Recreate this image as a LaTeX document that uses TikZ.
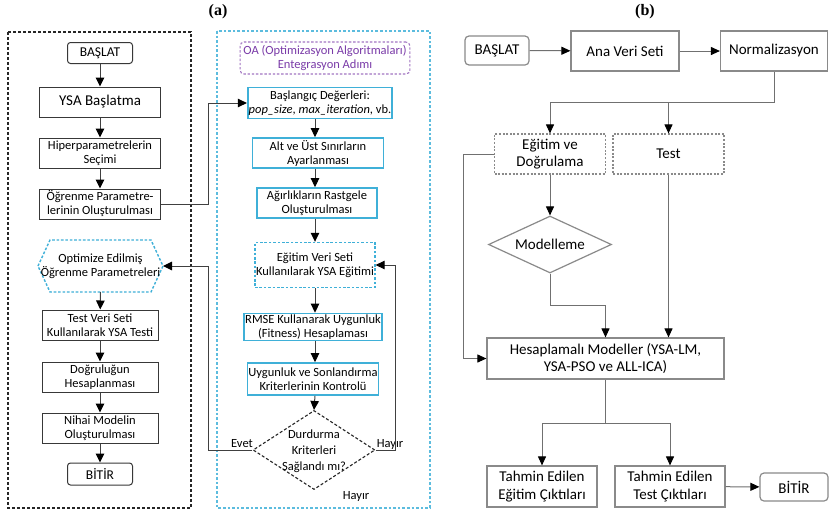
\documentclass[tikz,border=0pt]{standalone}
\usepackage{fontspec}
\setmainfont{Carlito}
\newfontfamily\labelfont{Liberation Serif}
\usetikzlibrary{arrows.meta,shapes.geometric,calc}

\definecolor{oacyan}{HTML}{3FB0D8}
\definecolor{oapurple}{HTML}{7A3BA8}
\definecolor{linegray}{HTML}{707070}
\definecolor{boxgray}{HTML}{8A8A8A}

\tikzset{
  fa/.style={font=\fontsize{12.5}{14}\selectfont},
  fb/.style={font=\fontsize{15}{17.5}\selectfont},
  abox/.style={draw=black!78, line width=1pt, fill=white, align=center, inner sep=1pt, fa},
  cbox/.style={draw=oacyan, line width=1.7pt, fill=white, align=center, inner sep=1pt, fa},
  cdash/.style={draw=oacyan, line width=1.4pt, dash pattern=on 2.6pt off 1.8pt, fill=white, align=center, inner sep=1pt, fa},
  bbox/.style={draw=boxgray, line width=1.2pt, fill=white, align=center, inner sep=1pt, fb},
  bdash/.style={draw=boxgray, line width=1.2pt, dash pattern=on 2pt off 1.6pt, fill=white, align=center, inner sep=1pt, fb},
  arr/.style={draw=black!75, line width=1pt, -{Triangle[length=9pt,width=8.5pt,color=black]}},
  barr/.style={draw=linegray, line width=1pt, -{Triangle[length=9pt,width=8pt,color=black]}},
  bline/.style={draw=linegray, line width=1pt},
  panel/.style={font=\labelfont\bfseries\fontsize{16}{18}\selectfont},
}

\begin{document}
\begin{tikzpicture}[x=1pt,y=-1pt]
\fill[white] (0,0) rectangle (829,514);
\useasboundingbox (0,0) rectangle (829,514);

% panel titles
\node[panel] (ta) at (218,12) {(a)};
\node[panel] (tb) at (645,12) {(b)};

% ---------- panel (a): network training frame ----------
\draw[black!85, line width=1.3pt, dash pattern=on 3pt off 2pt] (8,32) rectangle (191,508);
\draw[oacyan!85, line width=1.5pt, dash pattern=on 2.6pt off 2pt] (217,31) rectangle (430,508);

\node[abox, rounded corners=3pt, minimum width=65pt, minimum height=21pt, font=\fontsize{13.5}{15}\selectfont] (s1) at (100,53) {BAŞLAT};
\node[abox, minimum width=121pt, minimum height=30pt, font=\fontsize{15}{17}\selectfont] (y1) at (100,102) {YSA Başlatma};
\node[abox, minimum width=121pt, minimum height=30pt] (y2) at (100,153) {Hiperparametrelerin\\Seçimi};
\node[abox, minimum width=121pt, minimum height=30pt] (y3) at (100,204) {Öğrenme Parametre-\\lerinin Oluşturulması};

% optimised parameters (hexagon)
\draw[oacyan, line width=1.4pt, dash pattern=on 2.6pt off 1.8pt, fill=white]
  (38,266) -- (50,240) -- (151,240) -- (163,266) -- (151,292) -- (50,292) -- cycle;
\node[fa, align=center] (opt) at (100.5,266) {Optimize Edilmiş\\Öğrenme Parametreleri};
\coordinate (optE) at (163,266);

\node[abox, minimum width=116pt, minimum height=30pt] (y5) at (100,325) {Test Veri Seti\\Kullanılarak YSA Testi};
\node[abox, minimum width=116pt, minimum height=30pt] (y6) at (100,377) {Doğruluğun\\Hesaplanması};
\node[abox, minimum width=116pt, minimum height=30pt] (y7) at (100,428) {Nihai Modelin\\Oluşturulması};
\node[abox, rounded corners=3pt, minimum width=65pt, minimum height=22pt, font=\fontsize{13.5}{15}\selectfont] (e1) at (100,474) {BİTİR};

\draw[arr] (s1) -- (y1);
\draw[arr] (y1) -- (y2);
\draw[arr] (y2) -- (y3);
\draw[arr] (opt.south |- 0,292) -- (y5);
\draw[arr] (y5) -- (y6);
\draw[arr] (y6) -- (y7);
\draw[arr] (y7) -- (e1);

% ---------- panel (a): optimisation algorithm block ----------
\node[draw=oapurple!70, rounded corners=4pt, line width=1.1pt, dash pattern=on 2.4pt off 1.8pt,
      text=oapurple, align=center, fa, minimum width=168pt, minimum height=30pt] (oa) at (325,58)
      {OA (Optimizasyon Algoritmaları)\\Entegrasyon Adımı};

\node[cbox, minimum width=143pt, minimum height=31pt] (m1) at (320,103) {Başlangıç Değerleri:\\\textit{pop\_size}, \textit{max\_iteration}, vb.};
\node[cbox, minimum width=131pt, minimum height=30pt] (m2) at (318,153) {Alt ve Üst Sınırların\\Ayarlanması};
\node[cbox, minimum width=120pt, minimum height=30pt] (m3) at (317,203) {Ağırlıkların Rastgele\\Oluşturulması};
\node[cdash, minimum width=116pt, minimum height=45pt] (m4) at (315,265) {Eğitim Veri Seti\\Kullanılarak YSA Eğitimi};
\node[cbox, minimum width=132pt, minimum height=27pt] (m5) at (313,327) {RMSE Kullanarak Uygunluk\\(Fitness) Hesaplaması};
\node[cbox, minimum width=129pt, minimum height=32pt] (m6) at (313,379) {Uygunluk ve Sonlandırma\\Kriterlerinin Kontrolü};

\node[diamond, draw=black!85, line width=1.1pt, dash pattern=on 3pt off 2pt, fill=white,
      minimum width=122pt, minimum height=79pt, inner sep=0pt] (d1) at (314,450) {};
\node[fa, align=center, font=\fontsize{12.5}{16}\selectfont] (d1t) at (314,451) {Durdurma\\Kriterleri\\Sağlandı mı?};

\node[fa] (evet) at (242,444) {Evet};
\node[fa] (hay1) at (390,444) {Hayır};
\node[fa] (hay2) at (356,496) {Hayır};

\coordinate (jx1) at (208,0);
\coordinate (jx2) at (395,0);
\coordinate (cm) at (315,0);

\draw[arr] (m1.south -| cm) -- (m2.north -| cm);
\draw[arr] (m2.south -| cm) -- (m3.north -| cm);
\draw[arr] (m3.south -| cm) -- (m4.north -| cm);
\draw[arr] (m4.south -| cm) -- (m5.north -| cm);
\draw[arr] (m5.south -| cm) -- (m6.north -| cm);
\draw[arr] (m6.south -| cm) -- (d1.north);

\draw[arr] (y3.east) -| (jx1 |- m1.west) -- (m1.west);
\draw[arr] (d1.west) -| (jx1 |- optE) -- (optE);
\draw[arr] (d1.east) -| (jx2 |- m4.east) -- (m4.east);

% ---------- panel (b) ----------
\node[bbox, rounded corners=4pt, minimum width=64pt, minimum height=29pt] (b0) at (497,50.5) {BAŞLAT};
\node[bbox, minimum width=108pt, minimum height=40pt] (b1) at (625,51) {Ana Veri Seti};
\node[bbox, minimum width=107pt, minimum height=40pt] (b2) at (774,51) {Normalizasyon};
\node[bdash, minimum width=111pt, minimum height=40pt] (b3) at (550,154) {Eğitim ve\\Doğrulama};
\node[bdash, minimum width=111pt, minimum height=40pt] (b4) at (668.5,154) {Test};
\node[diamond, bbox, minimum width=123pt, minimum height=57pt, inner sep=0pt] (b5) at (550,244.5) {};
\node[fb] (b5t) at (550,244.5) {Modelleme};
\node[bbox, minimum width=237pt, minimum height=41pt] (b6) at (605.5,358.5) {Hesaplamalı Modeller (YSA-LM,\\YSA-PSO ve ALL-ICA)};
\node[bbox, minimum width=110pt, minimum height=41pt] (b7) at (542,486.5) {Tahmin Edilen\\Eğitim Çıktıları};
\node[bbox, minimum width=110pt, minimum height=41pt] (b8) at (670,486.5) {Tahmin Edilen\\Test Çıktıları};
\node[bbox, rounded corners=4pt, minimum width=68pt, minimum height=28pt] (b9) at (794,487) {BİTİR};

\coordinate (ys) at (0,102);
\coordinate (ym) at (0,305);
\coordinate (yo) at (0,423);
\coordinate (xl) at (463,0);

\draw[barr] (b0) -- (b1);
\draw[barr] (b1) -- (b2);
\draw[barr] (b2.south) -- (b2.south |- ys) -| (b3.north);
\draw[barr] (b4.north |- ys) -- (b4.north);
\draw[barr] (b3) -- (b5);
\draw[barr] (b3.west) -| (xl |- b6.west) -- (b6.west);
\draw[barr] (b5.south) |- (b6.north |- ym) -- (b6.north);
\draw[barr] (b4.south) -- (b4.south |- b6.north);
\draw[bline] (b6.south) -- (b6.south |- yo);
\draw[barr] (b6.south |- yo) -| (b7.north);
\draw[barr] (b6.south |- yo) -| (b8.north);
\draw[barr] (b8) -- (b9);
\end{tikzpicture}
\end{document}
